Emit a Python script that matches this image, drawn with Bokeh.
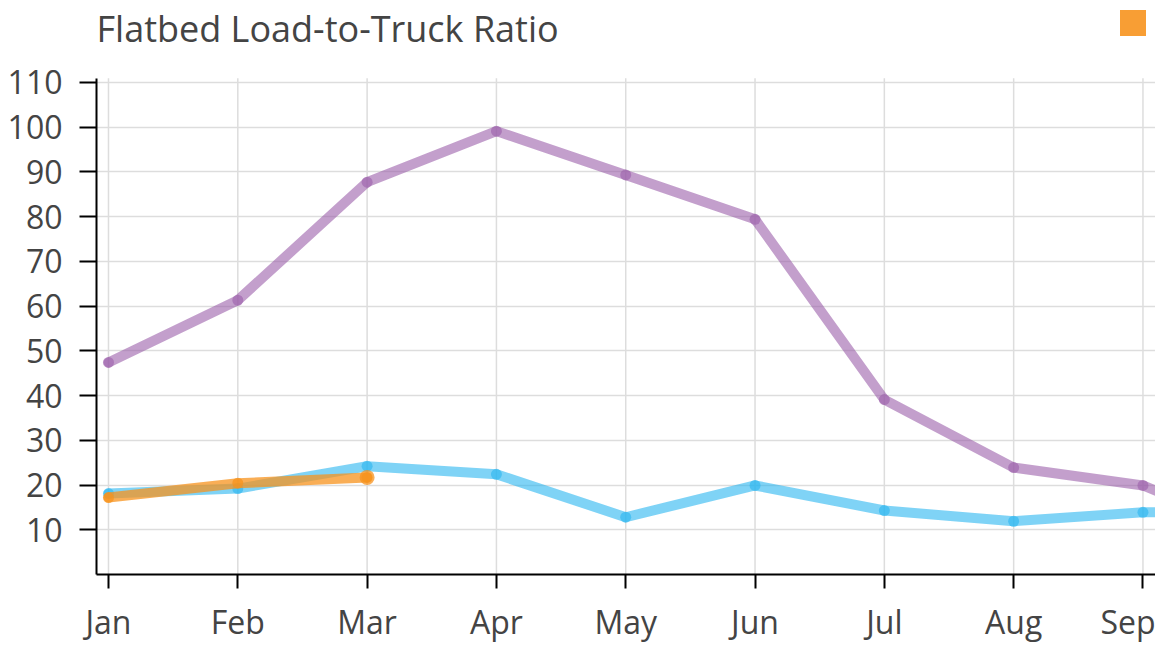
from bokeh.plotting import figure
from bokeh.models import FixedTicker, Legend, LegendItem, ColumnDataSource, Range1d, Label
from bokeh.embed import file_html
from bokeh.resources import INLINE

months = ["Jan", "Feb", "Mar", "Apr", "May", "Jun", "Jul", "Aug", "Sep", "Oct", "Nov", "Dec"]
y_ticks = [10, 20, 30, 40, 50, 60, 70, 80, 90, 100, 110]

series_2022 = [47.4, 61.3, 87.7, 99.1, 89.3, 79.4, 39.1, 23.9, 19.9, 8.0]
series_2023 = [18.1, 19.2, 24.2, 22.4, 12.8, 19.9, 14.3, 11.9, 13.9, 14.2]
series_2024 = [17.2, 20.4, 21.7]

title_text = "Flatbed Load-to-Truck Ratio"
FONT = "Open Sans"
TEXT_COLOR = "#444444"
ORANGE = "#f7931e"
Y_AXIS_TOP = 110.9      # top of the axis / plotting area
Y_VIEW_TOP = 128.3      # visible top (space for title + legend)

p = figure(
    width=1155, height=645,
    output_backend="svg", toolbar_location=None,
    x_range=Range1d(-0.0928, 8.097), y_range=Range1d(0, Y_VIEW_TOP),
    min_border_left=96, min_border_right=0, min_border_top=0, min_border_bottom=71,
)
p.outline_line_color = None
p.background_fill_color = "white"

for ax in (p.xaxis[0], p.yaxis[0]):
    ax.axis_line_color = "black"
    ax.axis_line_width = 2
    ax.major_tick_line_color = "black"
    ax.major_tick_line_width = 2
    ax.major_tick_in = 0
    ax.minor_tick_line_color = None
    ax.major_label_text_font = FONT
    ax.major_label_text_font_size = "32px"
    ax.major_label_text_color = TEXT_COLOR

p.xaxis.ticker = FixedTicker(ticks=list(range(len(months))))
p.xaxis.major_label_overrides = {i: m for i, m in enumerate(months)}
p.xaxis.major_tick_out = 14
p.xaxis.major_label_standoff = 11
p.yaxis.ticker = FixedTicker(ticks=y_ticks)
p.yaxis.major_tick_out = 17
p.yaxis.major_label_standoff = 17
p.yaxis.bounds = (0, Y_AXIS_TOP)

# horizontal grid
p.ygrid.ticker = FixedTicker(ticks=y_ticks)
p.ygrid.grid_line_color = "#dddddd"
p.ygrid.grid_line_width = 1.5
# vertical grid limited to the plotting area
p.xgrid.visible = False
xs = list(range(len(months)))
p.segment(x0=xs, y0=[0] * len(xs), x1=xs, y1=[Y_AXIS_TOP] * len(xs),
          line_color="#dddddd", line_width=1.5, level="underlay")

def draw(vals, color, alpha):
    src = ColumnDataSource(dict(x=list(range(len(vals))), y=vals))
    p.line("x", "y", source=src, line_color=color, line_width=10, line_alpha=alpha,
           line_join="round", line_cap="round")
    p.scatter("x", "y", source=src, size=11, fill_color=color, line_color=None, fill_alpha=alpha)
    return src

draw(series_2022, "#9b5faa", 0.6)
draw(series_2023, "#29b6f0", 0.6)
src24 = draw(series_2024, ORANGE, 0.75)

# highlighted latest point
last_src = ColumnDataSource(dict(x=[len(series_2024) - 1], y=[series_2024[-1]]))
p.scatter("x", "y", source=last_src, size=15, fill_color=ORANGE, fill_alpha=0.75, line_color=None)

# legend swatch (square marker; legend size set by glyph box)
swatch = p.scatter("x", "y", source=src24, marker="square", size=0,
                   fill_color=ORANGE, fill_alpha=0.9, line_color=None)
legend = Legend(items=[LegendItem(label="2024", renderers=[swatch])],
                location=(1004, 519), orientation="horizontal",
                glyph_width=65, glyph_height=65, padding=0, margin=0, spacing=10,
                border_line_color=None, background_fill_alpha=0,
                label_text_font=FONT, label_text_font_size="28px", label_text_color=TEXT_COLOR)
p.add_layout(legend, "center")

# chart title
p.add_layout(Label(x=0, y=546, x_units="screen", y_units="screen", text=title_text,
                   text_font=FONT, text_font_size="36px", text_color=TEXT_COLOR,
                   text_baseline="alphabetic", text_align="left"))

open("out.html", "w").write(file_html(p, INLINE))
